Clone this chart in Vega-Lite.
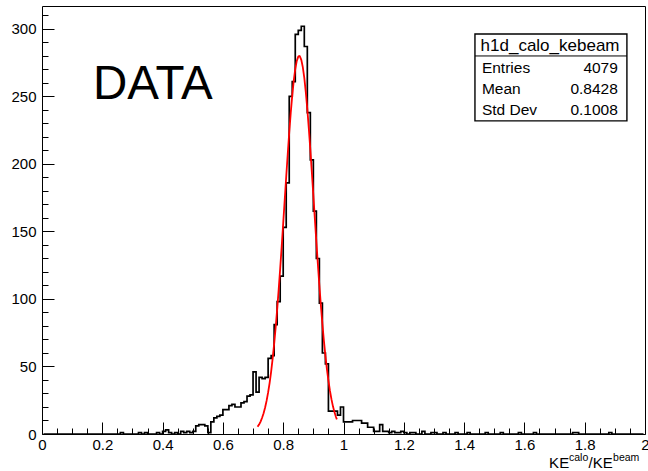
{
  "$schema": "https://vega.github.io/schema/vega-lite/v6.json",
  "width": 603,
  "height": 428,
  "autosize": {"type": "none"},
  "padding": {"left": 42, "top": 6, "right": 3, "bottom": 37},
  "background": "white",
  "config": {
    "view": {"stroke": "black", "strokeWidth": 1},
    "font": "Liberation Sans",
    "axis": {"grid": false, "domain": false, "title": null, "labelFont": "Liberation Sans", "labelColor": "black", "tickColor": "black", "tickWidth": 1}
  },
  "datasets": {
    "hist": [
      {"x":0.005,"n":0},{"x":0.015,"n":0},{"x":0.025,"n":0},{"x":0.035,"n":0},{"x":0.045,"n":0},{"x":0.055,"n":0},{"x":0.065,"n":0},{"x":0.075,"n":0},{"x":0.085,"n":0},{"x":0.095,"n":0},
      {"x":0.105,"n":0},{"x":0.115,"n":0},{"x":0.125,"n":0},{"x":0.135,"n":0},{"x":0.145,"n":0},{"x":0.155,"n":0},{"x":0.165,"n":0},{"x":0.175,"n":0},{"x":0.185,"n":0},{"x":0.195,"n":0},
      {"x":0.205,"n":0},{"x":0.215,"n":0},{"x":0.225,"n":0},{"x":0.235,"n":0},{"x":0.245,"n":0},{"x":0.255,"n":0},{"x":0.265,"n":1},{"x":0.275,"n":0},{"x":0.285,"n":0},{"x":0.295,"n":0},
      {"x":0.305,"n":0},{"x":0.315,"n":0},{"x":0.325,"n":1},{"x":0.335,"n":0},{"x":0.345,"n":1},{"x":0.355,"n":0},{"x":0.365,"n":0},{"x":0.375,"n":0},{"x":0.385,"n":1},{"x":0.395,"n":0},
      {"x":0.405,"n":2},{"x":0.415,"n":3},{"x":0.425,"n":1},{"x":0.435,"n":0},{"x":0.445,"n":1},{"x":0.455,"n":0},{"x":0.465,"n":2},{"x":0.475,"n":1},{"x":0.485,"n":2},{"x":0.495,"n":1},
      {"x":0.505,"n":2},{"x":0.515,"n":6},{"x":0.525,"n":7},{"x":0.535,"n":7},{"x":0.545,"n":6},{"x":0.555,"n":1},{"x":0.565,"n":9},{"x":0.575,"n":12},{"x":0.585,"n":13},{"x":0.595,"n":14},
      {"x":0.605,"n":18},{"x":0.615,"n":18},{"x":0.625,"n":21},{"x":0.635,"n":22},{"x":0.645,"n":20},{"x":0.655,"n":20},{"x":0.665,"n":23},{"x":0.675,"n":24},{"x":0.685,"n":28},{"x":0.695,"n":29},
      {"x":0.705,"n":46},{"x":0.715,"n":31},{"x":0.725,"n":42},{"x":0.735,"n":41},{"x":0.745,"n":42},{"x":0.755,"n":56},{"x":0.765,"n":58},{"x":0.775,"n":81},{"x":0.785,"n":98},{"x":0.795,"n":117},
      {"x":0.805,"n":153},{"x":0.815,"n":186},{"x":0.825,"n":250},{"x":0.835,"n":261},{"x":0.845,"n":296},{"x":0.855,"n":299},{"x":0.865,"n":302},{"x":0.875,"n":287},{"x":0.885,"n":238},{"x":0.895,"n":203},
      {"x":0.905,"n":165},{"x":0.915,"n":130},{"x":0.925,"n":97},{"x":0.935,"n":60},{"x":0.945,"n":52},{"x":0.955,"n":17},{"x":0.965,"n":17},{"x":0.975,"n":17},{"x":0.985,"n":14},{"x":0.995,"n":20},
      {"x":1.005,"n":9},{"x":1.015,"n":9},{"x":1.025,"n":9},{"x":1.035,"n":10},{"x":1.045,"n":10},{"x":1.055,"n":10},{"x":1.065,"n":8},{"x":1.075,"n":8},{"x":1.085,"n":5},{"x":1.095,"n":5},
      {"x":1.105,"n":2},{"x":1.115,"n":2},{"x":1.125,"n":7},{"x":1.135,"n":2},{"x":1.145,"n":2},{"x":1.155,"n":1},{"x":1.165,"n":2},{"x":1.175,"n":1},{"x":1.185,"n":1},{"x":1.195,"n":2},
      {"x":1.205,"n":1},{"x":1.215,"n":0},{"x":1.225,"n":1},{"x":1.235,"n":1},{"x":1.245,"n":0},{"x":1.255,"n":0},{"x":1.265,"n":2},{"x":1.275,"n":0},{"x":1.285,"n":0},{"x":1.295,"n":1},
      {"x":1.305,"n":1},{"x":1.315,"n":0},{"x":1.325,"n":0},{"x":1.335,"n":1},{"x":1.345,"n":0},{"x":1.355,"n":0},{"x":1.365,"n":0},{"x":1.375,"n":1},{"x":1.385,"n":0},{"x":1.395,"n":0},
      {"x":1.405,"n":0},{"x":1.415,"n":1},{"x":1.425,"n":0},{"x":1.435,"n":0},{"x":1.445,"n":0},{"x":1.455,"n":0},{"x":1.465,"n":0},{"x":1.475,"n":1},{"x":1.485,"n":0},{"x":1.495,"n":0},
      {"x":1.505,"n":0},{"x":1.515,"n":0},{"x":1.525,"n":1},{"x":1.535,"n":0},{"x":1.545,"n":0},{"x":1.555,"n":0},{"x":1.565,"n":0},{"x":1.575,"n":0},{"x":1.585,"n":1},{"x":1.595,"n":0},
      {"x":1.605,"n":0},{"x":1.615,"n":0},{"x":1.625,"n":0},{"x":1.635,"n":1},{"x":1.645,"n":0},{"x":1.655,"n":0},{"x":1.665,"n":0},{"x":1.675,"n":0},{"x":1.685,"n":0},{"x":1.695,"n":0},
      {"x":1.705,"n":0},{"x":1.715,"n":0},{"x":1.725,"n":0},{"x":1.735,"n":0},{"x":1.745,"n":0},{"x":1.755,"n":0},{"x":1.765,"n":1},{"x":1.775,"n":1},{"x":1.785,"n":0},{"x":1.795,"n":0},
      {"x":1.805,"n":0},{"x":1.815,"n":0},{"x":1.825,"n":0},{"x":1.835,"n":0},{"x":1.845,"n":0},{"x":1.855,"n":0},{"x":1.865,"n":0},{"x":1.875,"n":0},{"x":1.885,"n":1},{"x":1.895,"n":0},
      {"x":1.905,"n":0},{"x":1.915,"n":0},{"x":1.925,"n":0},{"x":1.935,"n":0},{"x":1.945,"n":0},{"x":1.955,"n":0},{"x":1.965,"n":0},{"x":1.975,"n":0},{"x":1.985,"n":0},{"x":1.995,"n":0}
    ],
    "fit": [
      {"x":0.715,"f":5.3},{"x":0.72,"f":7.0},{"x":0.725,"f":9.2},{"x":0.73,"f":12.0},{"x":0.735,"f":15.4},{"x":0.74,"f":19.6},{"x":0.745,"f":24.7},{"x":0.75,"f":30.8},
      {"x":0.755,"f":37.9},{"x":0.76,"f":46.2},{"x":0.765,"f":55.8},{"x":0.77,"f":66.7},{"x":0.775,"f":78.9},{"x":0.78,"f":92.3},{"x":0.785,"f":106.9},{"x":0.79,"f":122.5},
      {"x":0.795,"f":138.9},{"x":0.8,"f":156.0},{"x":0.805,"f":173.3},{"x":0.81,"f":190.5},{"x":0.815,"f":207.2},{"x":0.82,"f":223.2},{"x":0.825,"f":237.8},{"x":0.83,"f":250.8},
      {"x":0.835,"f":261.7},{"x":0.84,"f":270.3},{"x":0.845,"f":276.3},{"x":0.85,"f":279.5},{"x":0.853,"f":280.0},{"x":0.855,"f":279.8},{"x":0.86,"f":277.1},{"x":0.865,"f":271.7},
      {"x":0.87,"f":263.7},{"x":0.875,"f":253.1},{"x":0.88,"f":240.6},{"x":0.885,"f":226.2},{"x":0.89,"f":210.6},{"x":0.895,"f":193.9},{"x":0.9,"f":176.8},{"x":0.905,"f":159.4},
      {"x":0.91,"f":142.3},{"x":0.915,"f":125.7},{"x":0.92,"f":109.9},{"x":0.925,"f":95.1},{"x":0.93,"f":81.5},{"x":0.935,"f":69.0},{"x":0.94,"f":57.9},{"x":0.945,"f":48.0},
      {"x":0.95,"f":39.5},{"x":0.955,"f":32.1},{"x":0.96,"f":25.8},{"x":0.965,"f":20.5},{"x":0.97,"f":16.2},{"x":0.975,"f":12.6},{"x":0.978,"f":10.8}
    ]
  },
  "layer": [
    {
      "data": {"name": "hist"},
      "mark": {"type": "line", "interpolate": "step", "color": "black", "strokeWidth": 1.7},
      "encoding": {
        "x": {"field": "x", "type": "quantitative", "scale": {"domain": [0, 2], "nice": false, "zero": false},
              "axis": {"orient": "bottom", "values": [0, 0.2, 0.4, 0.6, 0.8, 1, 1.2, 1.4, 1.6, 1.8, 2], "ticks": false, "labelPadding": 3, "labelFontSize": 15, "labelFlush": false, "format": "~g"}},
        "y": {"field": "n", "type": "quantitative", "scale": {"domain": [0, 317], "nice": false},
              "axis": {"orient": "left", "values": [0, 50, 100, 150, 200, 250, 300], "ticks": false, "labelPadding": 6, "labelFontSize": 15}}
      }
    },
    {
      "data": {"name": "fit"},
      "mark": {"type": "line", "color": "#ff0000", "strokeWidth": 1.8},
      "encoding": {
        "x": {"field": "x", "type": "quantitative",
              "axis": {"orient": "bottom", "values": [0, 0.2, 0.4, 0.6, 0.8, 1, 1.2, 1.4, 1.6, 1.8, 2], "tickSize": -12, "labels": false}},
        "y": {"field": "f", "type": "quantitative",
              "axis": {"orient": "left", "values": [0, 50, 100, 150, 200, 250, 300], "tickSize": -12, "labels": false}}
      }
    },
    {
      "data": {"values": [{}]},
      "mark": {"type": "rect", "fill": "white", "stroke": "black", "strokeWidth": 1.4},
      "encoding": {
        "x": {"datum": 1.436, "type": "quantitative",
              "axis": {"orient": "bottom", "values": [0.05, 0.1, 0.15, 0.25, 0.3, 0.35, 0.45, 0.5, 0.55, 0.65, 0.7, 0.75, 0.85, 0.9, 0.95, 1.05, 1.1, 1.15, 1.25, 1.3, 1.35, 1.45, 1.5, 1.55, 1.65, 1.7, 1.75, 1.85, 1.9, 1.95], "tickSize": -6, "labels": false}},
        "x2": {"datum": 1.94},
        "y": {"datum": 296.3, "type": "quantitative",
              "axis": {"orient": "left", "values": [10, 20, 30, 40, 60, 70, 80, 90, 110, 120, 130, 140, 160, 170, 180, 190, 210, 220, 230, 240, 260, 270, 280, 290, 310], "tickSize": -6, "labels": false}},
        "y2": {"datum": 231.9}
      }
    },
    {
      "data": {"values": [{}]},
      "mark": {"type": "rule", "color": "black", "strokeWidth": 1},
      "encoding": {
        "x": {"datum": 1.436, "type": "quantitative", "axis": null},
        "x2": {"datum": 1.94},
        "y": {"datum": 280, "type": "quantitative", "axis": null}
      }
    },
    {
      "data": {"values": [{}]},
      "mark": {"type": "text", "text": "h1d_calo_kebeam", "align": "center", "baseline": "alphabetic", "fontSize": 17, "color": "black"},
      "encoding": {
        "x": {"datum": 1.685, "type": "quantitative", "axis": null},
        "y": {"datum": 283.5, "type": "quantitative", "axis": null}
      }
    },
    {
      "data": {"values": [{}]},
      "mark": {"type": "text", "text": ["Entries", "Mean", "Std Dev"], "lineHeight": 21.2, "align": "left", "baseline": "alphabetic", "fontSize": 15.5, "color": "black"},
      "encoding": {
        "x": {"datum": 1.459, "type": "quantitative", "axis": null},
        "y": {"datum": 267.6, "type": "quantitative", "axis": null}
      }
    },
    {
      "data": {"values": [{}]},
      "mark": {"type": "text", "text": ["4079", "0.8428", "0.1008"], "lineHeight": 21.2, "align": "right", "baseline": "alphabetic", "fontSize": 15.5, "color": "black"},
      "encoding": {
        "x": {"datum": 1.91, "type": "quantitative", "axis": null},
        "y": {"datum": 267.6, "type": "quantitative", "axis": null}
      }
    },
    {
      "data": {"values": [{}]},
      "mark": {"type": "text", "text": "DATA", "align": "left", "baseline": "alphabetic", "fontSize": 47.5, "color": "black"},
      "encoding": {
        "x": {"datum": 0.169, "type": "quantitative", "axis": null},
        "y": {"datum": 248, "type": "quantitative", "axis": null}
      }
    },
    {
      "data": {"values": [{}]},
      "mark": {"type": "text", "text": "KE", "align": "left", "baseline": "alphabetic", "fontSize": 15, "color": "black"},
      "encoding": {
        "x": {"datum": 1.682, "type": "quantitative", "axis": null},
        "y": {"datum": -25.2, "type": "quantitative", "axis": null}
      }
    },
    {
      "data": {"values": [{}]},
      "mark": {"type": "text", "text": "calo", "align": "left", "baseline": "alphabetic", "fontSize": 10.5, "color": "black"},
      "encoding": {
        "x": {"datum": 1.748, "type": "quantitative", "axis": null},
        "y": {"datum": -20.0, "type": "quantitative", "axis": null}
      }
    },
    {
      "data": {"values": [{}]},
      "mark": {"type": "text", "text": "/KE", "align": "left", "baseline": "alphabetic", "fontSize": 15, "color": "black"},
      "encoding": {
        "x": {"datum": 1.8126, "type": "quantitative", "axis": null},
        "y": {"datum": -25.2, "type": "quantitative", "axis": null}
      }
    },
    {
      "data": {"values": [{}]},
      "mark": {"type": "text", "text": "beam", "align": "left", "baseline": "alphabetic", "fontSize": 10.5, "color": "black"},
      "encoding": {
        "x": {"datum": 1.894, "type": "quantitative", "axis": null},
        "y": {"datum": -20.0, "type": "quantitative", "axis": null}
      }
    }
  ],
  "resolve": {"axis": {"x": "independent", "y": "independent"}}
}
